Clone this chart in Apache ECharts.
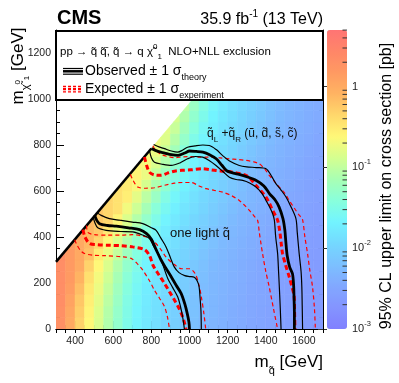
<!DOCTYPE html>
<html>
<head>
<meta charset="utf-8">
<title>CMS squark pair limits</title>
<script src="https://cdn.jsdelivr.net/npm/echarts@6.0.0/dist/echarts.min.js"></script>
<style>
  html, body { margin: 0; padding: 0; background: #fff; }
  #main { width: 399px; height: 383px; }
</style>
</head>
<body>
<div id="main"></div>
<script>
var FONT = '"Liberation Sans", Arial, Helvetica, sans-serif';

// bins of the limit map (lower edges, GeV)
var msqBins = [300, 350, 400, 450, 500, 550, 600, 650, 700, 750, 800, 850, 900, 950,
               1000, 1050, 1100, 1150, 1200, 1250, 1300, 1350, 1400, 1450, 1500, 1550, 1600, 1650];
var mlspBins = [0, 50, 100, 150, 200, 250, 300, 350, 400, 450, 500, 550, 600, 650, 700, 750,
                800, 850, 900, 950, 1000, 1050, 1100, 1150, 1200, 1250];

// log10 of the 95% CL upper limit [pb], one row per LSP bin
var limitLog = [
  [0.29, 0.01, -0.32, -0.62, -0.85, -1.09, -1.32, -1.52, -1.67, -1.79, -1.88, -1.96, -2.04, -2.12, -2.20, -2.27, -2.32, -2.36, -2.40, -2.44, -2.48, -2.51, -2.54, -2.57, -2.59, -2.61, -2.63, -2.65],
  [0.31, 0.04, -0.28, -0.59, -0.83, -1.07, -1.30, -1.50, -1.66, -1.78, -1.87, -1.95, -2.03, -2.11, -2.19, -2.26, -2.31, -2.36, -2.40, -2.44, -2.47, -2.51, -2.54, -2.56, -2.59, -2.61, -2.63, -2.65],
  [0.33, 0.08, -0.23, -0.55, -0.79, -1.03, -1.26, -1.48, -1.64, -1.76, -1.86, -1.94, -2.02, -2.10, -2.18, -2.25, -2.31, -2.35, -2.39, -2.43, -2.47, -2.50, -2.53, -2.56, -2.58, -2.60, -2.62, -2.64],
  [0.33, 0.14, -0.16, -0.50, -0.74, -0.98, -1.22, -1.44, -1.61, -1.74, -1.84, -1.92, -2.00, -2.08, -2.16, -2.24, -2.30, -2.34, -2.38, -2.42, -2.46, -2.50, -2.53, -2.56, -2.58, -2.60, -2.62, -2.64],
  [0.33, 0.17, -0.08, -0.42, -0.69, -0.92, -1.16, -1.39, -1.57, -1.71, -1.82, -1.90, -1.98, -2.06, -2.14, -2.22, -2.29, -2.33, -2.37, -2.41, -2.45, -2.49, -2.52, -2.55, -2.57, -2.59, -2.61, -2.63],
  [0.33, 0.17, 0.01, -0.32, -0.62, -0.85, -1.09, -1.32, -1.52, -1.67, -1.79, -1.88, -1.96, -2.04, -2.12, -2.20, -2.27, -2.32, -2.36, -2.40, -2.44, -2.48, -2.51, -2.54, -2.57, -2.59, -2.61, -2.63],
  [0.33, 0.17, 0.02, -0.18, -0.52, -0.75, -0.99, -1.23, -1.45, -1.62, -1.75, -1.84, -1.92, -2.00, -2.08, -2.16, -2.24, -2.30, -2.34, -2.38, -2.42, -2.46, -2.50, -2.53, -2.56, -2.58, -2.60, -2.62],
  [null, 0.17, 0.02, -0.13, -0.35, -0.64, -0.87, -1.11, -1.34, -1.54, -1.69, -1.80, -1.88, -1.96, -2.04, -2.12, -2.20, -2.27, -2.32, -2.36, -2.40, -2.44, -2.48, -2.52, -2.55, -2.57, -2.59, -2.61],
  [null, null, 0.02, -0.13, -0.25, -0.50, -0.74, -0.98, -1.22, -1.44, -1.61, -1.74, -1.84, -1.92, -2.00, -2.08, -2.16, -2.24, -2.30, -2.34, -2.38, -2.42, -2.46, -2.50, -2.53, -2.56, -2.58, -2.60],
  [null, null, null, -0.13, -0.25, -0.35, -0.60, -0.84, -1.08, -1.31, -1.51, -1.67, -1.78, -1.87, -1.95, -2.03, -2.11, -2.19, -2.26, -2.32, -2.36, -2.40, -2.44, -2.48, -2.51, -2.54, -2.57, -2.59],
  [null, null, null, null, -0.25, -0.35, -0.44, -0.70, -0.93, -1.17, -1.40, -1.58, -1.72, -1.82, -1.90, -1.98, -2.06, -2.14, -2.22, -2.29, -2.33, -2.37, -2.41, -2.45, -2.49, -2.52, -2.55, -2.58],
  [null, null, null, null, null, -0.35, -0.44, -0.55, -0.79, -1.03, -1.26, -1.48, -1.64, -1.76, -1.86, -1.94, -2.02, -2.10, -2.18, -2.25, -2.31, -2.35, -2.39, -2.43, -2.47, -2.50, -2.54, -2.56],
  [null, null, null, null, null, null, -0.44, -0.52, -0.65, -0.88, -1.12, -1.35, -1.55, -1.69, -1.80, -1.89, -1.97, -2.05, -2.13, -2.21, -2.28, -2.32, -2.36, -2.40, -2.44, -2.48, -2.52, -2.55],
  [null, null, null, null, null, null, null, -0.52, -0.59, -0.74, -0.98, -1.22, -1.44, -1.61, -1.74, -1.84, -1.92, -2.00, -2.08, -2.16, -2.24, -2.30, -2.34, -2.38, -2.42, -2.46, -2.50, -2.53],
  [null, null, null, null, null, null, null, null, -0.59, -0.66, -0.85, -1.09, -1.32, -1.52, -1.67, -1.78, -1.87, -1.95, -2.03, -2.11, -2.19, -2.26, -2.32, -2.36, -2.40, -2.44, -2.48, -2.51],
  [null, null, null, null, null, null, null, null, null, -0.66, -0.73, -0.95, -1.19, -1.41, -1.59, -1.73, -1.83, -1.91, -1.99, -2.07, -2.15, -2.23, -2.29, -2.34, -2.38, -2.42, -2.46, -2.50],
  [null, null, null, null, null, null, null, null, null, null, -0.73, -0.83, -1.07, -1.30, -1.51, -1.66, -1.78, -1.87, -1.95, -2.03, -2.11, -2.19, -2.26, -2.32, -2.36, -2.40, -2.44, -2.48],
  [null, null, null, null, null, null, null, null, null, null, null, -0.80, -0.96, -1.20, -1.42, -1.60, -1.73, -1.83, -1.91, -1.99, -2.07, -2.15, -2.23, -2.30, -2.34, -2.38, -2.42, -2.46],
  [null, null, null, null, null, null, null, null, null, null, null, null, -0.87, -1.10, -1.33, -1.53, -1.68, -1.79, -1.88, -1.96, -2.04, -2.12, -2.20, -2.27, -2.32, -2.36, -2.40, -2.44],
  [null, null, null, null, null, null, null, null, null, null, null, null, null, -1.02, -1.26, -1.47, -1.64, -1.76, -1.86, -1.94, -2.02, -2.10, -2.18, -2.25, -2.31, -2.35, -2.39, -2.43],
  [null, null, null, null, null, null, null, null, null, null, null, null, null, null, -1.18, -1.41, -1.59, -1.72, -1.82, -1.91, -1.99, -2.07, -2.15, -2.23, -2.29, -2.34, -2.38, -2.42],
  [null, null, null, null, null, null, null, null, null, null, null, null, null, null, null, -1.34, -1.54, -1.68, -1.79, -1.88, -1.96, -2.04, -2.12, -2.20, -2.27, -2.32, -2.36, -2.40],
  [null, null, null, null, null, null, null, null, null, null, null, null, null, null, null, null, -1.49, -1.65, -1.77, -1.86, -1.94, -2.02, -2.10, -2.18, -2.25, -2.31, -2.35, -2.39],
  [null, null, null, null, null, null, null, null, null, null, null, null, null, null, null, null, null, -1.61, -1.74, -1.84, -1.92, -2.00, -2.08, -2.16, -2.24, -2.30, -2.34, -2.38],
  [null, null, null, null, null, null, null, null, null, null, null, null, null, null, null, null, null, null, -1.72, -1.82, -1.90, -1.98, -2.06, -2.14, -2.22, -2.29, -2.33, -2.37],
  [null, null, null, null, null, null, null, null, null, null, null, null, null, null, null, null, null, null, null, -1.80, -1.89, -1.97, -2.05, -2.13, -2.21, -2.28, -2.32, -2.36]
];

// kinematic edge of the model
var diagonal = [[300, 292], [800, 785]];

// q_L + q_R (8 squarks) exclusion contours
var obs8 = [[800, 785], [835, 772], [870, 765], [905, 758], [940, 755], [975, 765], [1000, 774], [1035, 772], [1070, 769], [1105, 758], [1140, 740], [1170, 712], [1195, 688], [1230, 678], [1260, 672], [1300, 662], [1350, 646], [1390, 622], [1420, 588], [1450, 560], [1470, 530], [1490, 480], [1500, 430], [1505, 380], [1512, 320], [1525, 270], [1540, 240], [1546, 190], [1548, 140], [1550, 70], [1550, 0]];
var obs8Out = [[812, 802], [840, 792], [869, 784], [905, 774], [938, 769], [965, 778], [990, 790], [1030, 796], [1070, 800], [1104, 798], [1140, 780], [1174, 754], [1210, 730], [1261, 711], [1300, 705], [1350, 702], [1401, 697], [1430, 665], [1453, 632], [1480, 604], [1506, 574], [1530, 535], [1558, 480], [1565, 420], [1575, 328], [1585, 250], [1589, 183], [1591, 100], [1593, 0]];
var obs8In = [[791, 772], [800, 745], [816, 725], [860, 716], [904, 711], [950, 722], [990, 740], [1030, 750], [1069, 747], [1105, 732], [1139, 711], [1175, 685], [1209, 660], [1245, 650], [1279, 646], [1315, 635], [1349, 617], [1380, 590], [1401, 559], [1420, 530], [1436, 501], [1445, 473], [1452, 400], [1462, 328], [1467, 250], [1471, 183], [1476, 90], [1480, 0]];
var exp8 = [[764, 748], [775, 712], [790, 682], [815, 670], [851, 668], [885, 678], [921, 686], [960, 690], [1008, 692], [1069, 697], [1105, 693], [1139, 689], [1180, 686], [1226, 682], [1262, 676], [1296, 668], [1325, 648], [1349, 624], [1375, 600], [1401, 574], [1420, 545], [1436, 516], [1462, 473], [1474, 420], [1481, 370], [1488, 328], [1505, 275], [1523, 227], [1538, 180], [1549, 140], [1551, 70], [1553, 0]];
var exp8Out = [[808, 797], [820, 780], [851, 759], [885, 750], [921, 745], [960, 748], [1000, 750], [1050, 747], [1104, 747], [1160, 744], [1209, 740], [1250, 737], [1296, 733], [1335, 727], [1366, 718], [1395, 695], [1418, 668], [1445, 642], [1471, 617], [1500, 590], [1523, 559], [1550, 525], [1575, 495], [1592, 478], [1605, 400], [1619, 328], [1630, 260], [1645, 183], [1655, 90], [1660, 0]];
var exp8In = [[690, 672], [705, 645], [729, 617], [770, 612], [816, 614], [870, 625], [921, 634], [965, 637], [1008, 637], [1050, 622], [1087, 610], [1130, 603], [1174, 595], [1220, 580], [1261, 559], [1290, 537], [1314, 516], [1340, 490], [1357, 473], [1366, 420], [1375, 370], [1383, 328], [1400, 250], [1418, 183], [1440, 90], [1462, 0]];

// one light squark exclusion contours
var obs1 = [[503, 495], [512, 475], [528, 458], [570, 450], [616, 447], [680, 440], [738, 432], [775, 415], [800, 390], [825, 345], [851, 300], [878, 262], [904, 227], [930, 190], [956, 155], [975, 110], [988, 68], [997, 30], [1000, 0]];
var obs1Out = [[515, 506], [537, 494], [580, 480], [633, 473], [700, 465], [755, 458], [800, 440], [825, 429], [850, 395], [877, 357], [900, 310], [920, 270], [945, 245], [975, 232], [1000, 228], [1025, 225], [1040, 210], [1050, 185], [1055, 140], [1060, 80], [1062, 0]];
var obs1In = [[495, 486], [505, 460], [519, 440], [563, 429], [640, 424], [703, 422], [750, 410], [790, 393], [812, 360], [842, 320], [860, 280], [886, 220], [912, 180], [938, 140], [952, 100], [964, 53], [970, 20], [973, 0]];
var exp1 = [[441, 432], [452, 400], [476, 372], [520, 366], [581, 364], [642, 362], [703, 357], [764, 345], [790, 320], [810, 275], [840, 235], [869, 198], [895, 162], [921, 126], [945, 90], [964, 53], [976, 20], [982, 0]];
var exp1Out = [[460, 450], [467, 420], [500, 410], [570, 408], [642, 408], [700, 410], [750, 405], [790, 395], [820, 375], [850, 345], [880, 310], [921, 280], [960, 262], [1000, 262], [1030, 240], [1050, 190], [1062, 140], [1075, 70], [1085, 0]];
var exp1In = [[398, 388], [410, 365], [430, 340], [450, 328], [493, 321], [554, 319], [650, 314], [694, 307], [725, 285], [755, 256], [790, 210], [816, 169], [842, 135], [869, 97], [885, 50], [895, 0]];

// tick labels
var xLabels = [400, 600, 800, 1000, 1200, 1400, 1600];
var yLabels = [0, 200, 400, 600, 800, 1000, 1200];
var zDecades = [-3, -2, -1, 0];
var zMinor = [2, 3, 4, 5, 6, 7, 8, 9];

var palette = ['#8080ff', '#8494ff', '#82a8ff', '#7cc0ff', '#74d8ff', '#72f4ff', '#88ffdc', '#a8ffb4',
               '#d4ff90', '#fff878', '#ffd86c', '#ffb462', '#ff9a62', '#ff8668', '#ff7474'];

var myChart = echarts.init(document.getElementById('main'));

var binW = msqBins[1] - msqBins[0];
var binH = mlspBins[1] - mlspBins[0];

var cells = [];
limitLog.forEach(function (row, j) {
    row.forEach(function (v, i) {
        if (v !== null) cells.push([msqBins[i], mlspBins[j], v]);
    });
});

function diagSide(p) {
    var a = diagonal[0], b = diagonal[1];
    var y = a[1] + (p[0] - a[0]) * (b[1] - a[1]) / (b[0] - a[0]);
    return y - p[1];
}

// keep the part of a cell under the diagonal
function clipCell(pts) {
    var out = [];
    for (var i = 0; i < pts.length; i++) {
        var p = pts[i], q = pts[(i + 1) % pts.length];
        var dp = diagSide(p), dq = diagSide(q);
        if (dp >= 0) out.push(p);
        if ((dp >= 0) !== (dq >= 0)) {
            var t = dp / (dp - dq);
            out.push([p[0] + t * (q[0] - p[0]), p[1] + t * (q[1] - p[1])]);
        }
    }
    return out;
}

function renderCell(params, api) {
    var x0 = api.value(0), y0 = api.value(1);
    var poly = clipCell([[x0, y0], [x0 + binW, y0], [x0 + binW, y0 + binH], [x0, y0 + binH]]);
    if (poly.length < 3) return;
    var color = api.visual('color');
    return {
        type: 'polygon',
        shape: { points: poly.map(function (p) { return api.coord(p); }) },
        style: { fill: color, stroke: color, lineWidth: 0.6 }
    };
}

var zMinorTicks = [];
zDecades.forEach(function (d) {
    zMinor.forEach(function (k) {
        var v = d + Math.log10(k);
        if (v <= 0.7) zMinorTicks.push([1, v]);
    });
});

function contour(data, color, width, dash) {
    return {
        type: 'line', data: data, symbol: 'none', smooth: 0.3, silent: true, clip: true,
        xAxisIndex: 0, yAxisIndex: 0, z: 3,
        lineStyle: { color: color, width: width, type: dash || 'solid' }
    };
}

var tickStyle = { color: '#000', width: 1 };
function plain(v) { return String(v); }

option = {
    animation: false,
    grid: [
        { left: 56, top: 30, width: 267, height: 299 },
        { left: 327, top: 30, width: 20, height: 299 }
    ],
    visualMap: {
        type: 'continuous', show: true, seriesIndex: 0, dimension: 2,
        min: -3, max: 0.7, left: 327, top: 30, itemWidth: 20, itemHeight: 299,
        padding: 0, calculable: false, hoverLink: false, text: null,
        inRange: { color: palette }
    },
    xAxis: [
        { gridIndex: 0, type: 'value', position: 'bottom', min: 300, max: 1700, interval: 50,
          axisLine: { lineStyle: tickStyle }, splitLine: { show: false },
          axisTick: { inside: true, length: 4, lineStyle: tickStyle },
          axisLabel: { customValues: xLabels, formatter: plain, margin: 7, fontSize: 10.5, color: '#222', fontFamily: FONT } },
        { gridIndex: 0, type: 'value', position: 'bottom', min: 300, max: 1700,
          axisLine: { show: false }, splitLine: { show: false }, axisLabel: { show: false },
          axisTick: { inside: true, length: 8, customValues: xLabels, lineStyle: tickStyle } },
        { gridIndex: 0, type: 'value', position: 'top', min: 300, max: 1700, interval: 50,
          axisLine: { lineStyle: tickStyle }, splitLine: { show: false }, axisLabel: { show: false },
          axisTick: { inside: true, length: 4, lineStyle: tickStyle } },
        { gridIndex: 1, type: 'value', min: 0, max: 1, show: false }
    ],
    yAxis: [
        { gridIndex: 0, type: 'value', position: 'left', min: 0, max: 1300, interval: 50,
          axisLine: { lineStyle: tickStyle }, splitLine: { show: false },
          axisTick: { inside: true, length: 4, lineStyle: tickStyle },
          axisLabel: { customValues: yLabels, formatter: plain, margin: 5, fontSize: 10.5, color: '#222', fontFamily: FONT } },
        { gridIndex: 0, type: 'value', position: 'left', min: 0, max: 1300,
          axisLine: { show: false }, splitLine: { show: false }, axisLabel: { show: false },
          axisTick: { inside: true, length: 8, customValues: yLabels, lineStyle: tickStyle } },
        { gridIndex: 0, type: 'value', position: 'right', min: 0, max: 1300, interval: 50,
          axisLine: { lineStyle: tickStyle }, splitLine: { show: false }, axisLabel: { show: false },
          axisTick: { inside: true, length: 4, lineStyle: tickStyle } },
        { gridIndex: 0, type: 'value', position: 'right', min: 0, max: 1300,
          axisLine: { show: false }, splitLine: { show: false }, axisLabel: { show: false },
          axisTick: { inside: true, length: 8, customValues: yLabels, lineStyle: tickStyle } },
        { gridIndex: 1, type: 'value', position: 'right', min: -3, max: 0.7,
          axisLine: { show: false }, splitLine: { show: false },
          axisTick: { inside: true, length: 9, customValues: zDecades, lineStyle: { color: '#333', width: 1 } },
          axisLabel: {
              customValues: zDecades, margin: 5, color: '#222',
              formatter: function (v) { return v === 0 ? '{b|1}' : '{b|10}{s|' + v + '}'; },
              rich: {
                  b: { fontSize: 11, fontFamily: FONT, color: '#222', lineHeight: 18 },
                  s: { fontSize: 7.5, fontFamily: FONT, color: '#222', lineHeight: 10, verticalAlign: 'top' }
              }
          } }
    ],
    series: [
        { type: 'custom', xAxisIndex: 0, yAxisIndex: 0, data: cells, renderItem: renderCell,
          clip: true, silent: true, z: 1, encode: { x: 0, y: 1 } },
        { type: 'custom', xAxisIndex: 3, yAxisIndex: 4, data: zMinorTicks, silent: true, z: 5,
          renderItem: function (params, api) {
              var p = api.coord([api.value(0), api.value(1)]);
              return { type: 'line', shape: { x1: p[0] - 4.5, y1: p[1], x2: p[0], y2: p[1] },
                       style: { stroke: '#333', lineWidth: 1 } };
          } },
        contour(diagonal, '#000', 2.5),
        contour(exp8Out, '#ff0000', 1.2, [4, 3]),
        contour(exp8In, '#ff0000', 1.2, [4, 3]),
        contour(exp8, '#ff0000', 3, [5, 3]),
        contour(obs8Out, '#000', 1.2),
        contour(obs8In, '#000', 1.2),
        contour(obs8, '#000', 2.8),
        contour(exp1Out, '#ff0000', 1.2, [4, 3]),
        contour(exp1In, '#ff0000', 1.2, [4, 3]),
        contour(exp1, '#ff0000', 3, [5, 3]),
        contour(obs1Out, '#000', 1.2),
        contour(obs1In, '#000', 1.2),
        contour(obs1, '#000', 2.8)
    ],
    graphic: [
        { type: 'rect', z: 100, shape: { x: 56, y: 31, width: 267, height: 69 },
          style: { fill: '#fff', stroke: '#000', lineWidth: 2 } },
        { type: 'text', z: 101, x: 57, y: 18.5,
          style: { text: 'CMS', fontSize: 20, fontWeight: 'bold', fontFamily: FONT, fill: '#000', verticalAlign: 'middle' } },
        { type: 'text', z: 101, x: 323, y: 20,
          style: { text: '{a|35.9 fb}{s|-1}{a| (13 TeV)}', align: 'right', verticalAlign: 'middle',
                   rich: { a: { fontSize: 16, fontFamily: FONT, fill: '#000', lineHeight: 22 },
                           s: { fontSize: 10, fontFamily: FONT, fill: '#000', lineHeight: 12, verticalAlign: 'top' } } } },
        { type: 'text', z: 101, x: 60, y: 52,
          style: { text: '{a|pp \u2192 q\u0303 q\u0303\u0304, q\u0303 \u2192 q \u03c7\u0303}{s|0}{i|1}{a|  NLO+NLL exclusion}',
                   verticalAlign: 'middle',
                   rich: { a: { fontSize: 11.5, fontFamily: FONT, fill: '#000', lineHeight: 18 },
                           s: { fontSize: 8, fontFamily: FONT, fill: '#000', lineHeight: 12, verticalAlign: 'top' },
                           i: { fontSize: 8, fontFamily: FONT, fill: '#000', lineHeight: 12, verticalAlign: 'bottom' } } } },
        { type: 'line', z: 101, shape: { x1: 63, y1: 68.5, x2: 83, y2: 68.5 }, style: { stroke: '#000', lineWidth: 1.2 } },
        { type: 'line', z: 101, shape: { x1: 63, y1: 71.3, x2: 83, y2: 71.3 }, style: { stroke: '#000', lineWidth: 2.5 } },
        { type: 'line', z: 101, shape: { x1: 63, y1: 74.2, x2: 83, y2: 74.2 }, style: { stroke: '#000', lineWidth: 1.2 } },
        { type: 'line', z: 101, shape: { x1: 63, y1: 86.3, x2: 83, y2: 86.3 }, style: { stroke: '#ff0000', lineWidth: 1.2, lineDash: [3, 2] } },
        { type: 'line', z: 101, shape: { x1: 63, y1: 89, x2: 83, y2: 89 }, style: { stroke: '#ff0000', lineWidth: 2.5, lineDash: [3, 2] } },
        { type: 'line', z: 101, shape: { x1: 63, y1: 91.8, x2: 83, y2: 91.8 }, style: { stroke: '#ff0000', lineWidth: 1.2, lineDash: [3, 2] } },
        { type: 'text', z: 101, x: 85, y: 71,
          style: { text: '{a|Observed \u00b1 1 \u03c3}{i|theory}', verticalAlign: 'middle',
                   rich: { a: { fontSize: 14, fontFamily: FONT, fill: '#000', lineHeight: 22 },
                           i: { fontSize: 9, fontFamily: FONT, fill: '#000', lineHeight: 12, verticalAlign: 'bottom' } } } },
        { type: 'text', z: 101, x: 85, y: 89,
          style: { text: '{a|Expected \u00b1 1 \u03c3}{i|experiment}', verticalAlign: 'middle',
                   rich: { a: { fontSize: 14, fontFamily: FONT, fill: '#000', lineHeight: 22 },
                           i: { fontSize: 9, fontFamily: FONT, fill: '#000', lineHeight: 12, verticalAlign: 'bottom' } } } },
        { type: 'text', z: 50, x: 207, y: 134,
          style: { text: '{a|q\u0303}{i|L}{a| +q\u0303}{i|R}{a| (u\u0303, d\u0303, s\u0303, c\u0303)}', verticalAlign: 'middle',
                   rich: { a: { fontSize: 12, fontFamily: FONT, fill: '#111', lineHeight: 20 },
                           i: { fontSize: 8, fontFamily: FONT, fill: '#111', lineHeight: 12, verticalAlign: 'bottom' } } } },
        { type: 'text', z: 50, x: 170, y: 233,
          style: { text: 'one light q\u0303', fontSize: 13, fontFamily: FONT, fill: '#111', verticalAlign: 'middle' } },
        { type: 'text', z: 50, x: 323, y: 362,
          style: { text: '{a|m}{i|q\u0303}{a| [GeV]}', align: 'right', verticalAlign: 'middle',
                   rich: { a: { fontSize: 17, fontFamily: FONT, fill: '#000', lineHeight: 28 },
                           i: { fontSize: 11, fontFamily: FONT, fill: '#000', lineHeight: 16, verticalAlign: 'bottom' } } } },
        { type: 'text', z: 50, x: 18, y: 66, rotation: Math.PI / 2,
          style: { text: '{a|m}{i|\u03c7\u0303}{j|0}{k|1}{a| [GeV]}', align: 'center', verticalAlign: 'middle',
                   rich: { a: { fontSize: 17, fontFamily: FONT, fill: '#000', lineHeight: 26 },
                           i: { fontSize: 11, fontFamily: FONT, fill: '#000', lineHeight: 16, verticalAlign: 'bottom' },
                           j: { fontSize: 8, fontFamily: FONT, fill: '#000', lineHeight: 26 },
                           k: { fontSize: 8, fontFamily: FONT, fill: '#000', lineHeight: 8, verticalAlign: 'bottom' } } } },
        { type: 'text', z: 50, x: 387, y: 186, rotation: Math.PI / 2,
          style: { text: '95% CL upper limit on cross section [pb]', fontSize: 16, fontFamily: FONT, fill: '#000',
                   align: 'center', verticalAlign: 'middle' } }
    ]
};

myChart.setOption(option);
</script>
</body>
</html>
